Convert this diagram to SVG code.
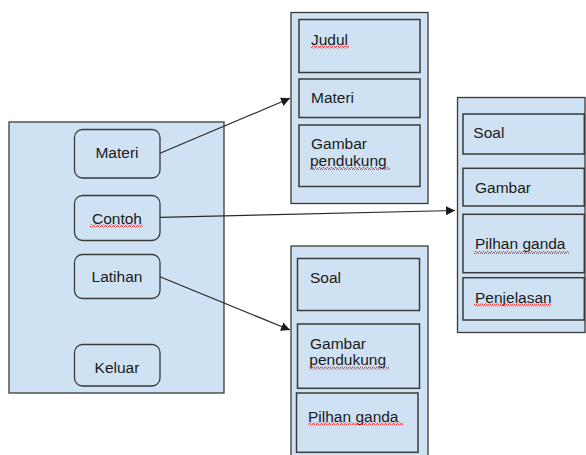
<svg xmlns="http://www.w3.org/2000/svg" width="586" height="455" viewBox="0 0 586 455">
<style>
.panel{fill:#cfe2f3;stroke:#3a3a3a;stroke-width:1.3}
.box{fill:#cfe2f3;stroke:#3a3a3a;stroke-width:1.5}
.btn{fill:#cfe2f3;stroke:#3a3a3a;stroke-width:1.3}
text{font-family:"Liberation Sans",Arial,sans-serif;font-size:15.5px;fill:#1a1a1a}
.c{text-anchor:middle}
.conn{stroke:#2a2a2a;stroke-width:1.2;fill:none;marker-end:url(#ah)}
.sq{fill:url(#wave)}
</style>
<defs>
<marker id="ah" viewBox="0 0 10 10" refX="10" refY="5" markerWidth="9" markerHeight="9" markerUnits="userSpaceOnUse" orient="auto">
<path d="M0,0 L10,5 L0,10 z" fill="#1a1a1a"/>
</marker>
<pattern id="wave" width="4" height="3" patternUnits="userSpaceOnUse">
<path d="M0,2.5 L1,0.5 L2,0.5 L3,2.5 L4,2.5" fill="none" stroke="#e02020" stroke-width="0.8"/>
</pattern>
</defs>

<g id="menu">
<rect class="panel" x="9" y="122" width="215" height="271"/>
</g>
<g id="btn-materi">
<rect class="btn" x="74.5" y="129.5" width="85.5" height="48.5" rx="8"/>
<text class="c" x="117" y="157.5">Materi</text>
</g>
<g id="btn-contoh">
<rect class="btn" x="74.5" y="195.5" width="85.5" height="45" rx="8"/>
<text class="c" x="117" y="224">Contoh</text>
<rect class="sq" x="90" y="224.5" width="52.5" height="3"/>
</g>
<g id="btn-latihan">
<rect class="btn" x="74.5" y="254.5" width="85.5" height="44" rx="8"/>
<text class="c" x="117" y="282.3">Latihan</text>
</g>
<g id="btn-keluar">
<rect class="btn" x="74.5" y="344.5" width="85.5" height="41.5" rx="8"/>
<text class="c" x="117" y="373.3">Keluar</text>
</g>

<g id="materi-panel">
<rect class="panel" x="291" y="12.5" width="137" height="191"/>
<rect class="box" x="299" y="19.5" width="121" height="53"/>
<text x="311" y="45">Judul</text>
<rect class="sq" x="311" y="45.5" width="38" height="3"/>
<rect class="box" x="299" y="79" width="121" height="38.5"/>
<text x="311" y="103.3">Materi</text>
<rect class="box" x="299" y="125" width="121" height="61.5"/>
<text x="311" y="149.3">Gambar</text>
<text x="310" y="165.5">pendukung</text>
<rect class="sq" x="310" y="167" width="80" height="3"/>
</g>

<g id="latihan-panel">
<rect class="panel" x="291" y="246" width="137" height="215"/>
<rect class="box" x="297.5" y="258.5" width="122" height="52"/>
<text x="310" y="283.3">Soal</text>
<rect class="box" x="297.5" y="324" width="122" height="64.3"/>
<text x="310" y="349.3">Gambar</text>
<text x="309.3" y="365">pendukung</text>
<rect class="sq" x="309.3" y="366.5" width="80" height="3"/>
<rect class="box" x="296.5" y="393" width="121.5" height="59.3"/>
<text x="308" y="421.7">Pilhan ganda</text>
<rect class="sq" x="308.3" y="422.5" width="95" height="3"/>
</g>

<g id="contoh-panel">
<rect class="panel" x="457.5" y="97.5" width="127.5" height="235"/>
<rect class="box" x="463" y="114" width="121.3" height="40"/>
<text x="473.3" y="138.3">Soal</text>
<rect class="box" x="463" y="168.3" width="121.3" height="37.7"/>
<text x="475" y="192.7">Gambar</text>
<rect class="box" x="463" y="214.3" width="121.3" height="58.4"/>
<text x="475" y="249.3">Pilhan ganda</text>
<rect class="sq" x="474" y="251" width="95" height="3"/>
<rect class="box" x="463" y="277.7" width="121.3" height="42.3"/>
<text x="475" y="303.3">Penjelasan</text>
<rect class="sq" x="474" y="303.5" width="77" height="3"/>
</g>

<g id="connectors">
<line class="conn" x1="160" y1="153.3" x2="290" y2="98.3"/>
<line class="conn" x1="160" y1="217.3" x2="455" y2="210.5"/>
<line class="conn" x1="160" y1="276.7" x2="290" y2="330"/>
</g>
</svg>
